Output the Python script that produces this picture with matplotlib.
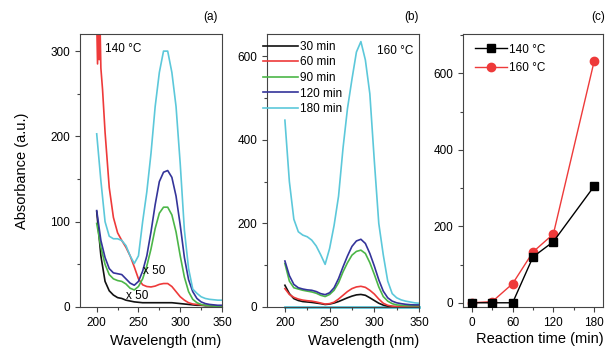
import numpy as np
import matplotlib
matplotlib.use('Agg')
import matplotlib.pyplot as plt
from matplotlib.ticker import MultipleLocator

plt.rcParams['font.family'] = ['Liberation Sans', 'DejaVu Sans']

# colours of the series
c_black, c_red, c_green, c_blue, c_cyan = '#111111', '#ee3a3a', '#4cb648', '#34349a', '#5cc8da'

# wavelength grid (nm) for the spectra
wl = np.arange(200, 351, 5)

# (a) 140 C spectra (30 and 60 min are x50)
a_30 = [112, 60, 30, 19, 14, 11, 10, 8, 7, 6, 5.5, 5, 5, 5, 5, 5, 5, 5, 5, 4.5, 4, 3.5, 3, 2.5, 2, 2, 1.5, 1.5, 1, 1, 1]
wl_a60 = [200, 201, 202, 203, 204, 205, 207, 210, 215, 220, 225, 230, 235, 240, 245, 250, 255, 260, 265, 270,
          275, 280, 285, 290, 295, 300, 305, 310, 315, 320, 325, 330, 340, 350]
a_60 = [335, 285, 335, 290, 330, 280, 255, 205, 140, 105, 87, 78, 70, 60, 47, 33, 26, 24, 23.5, 24.5,
        26.5, 27.5, 27.5, 24, 18, 12, 8, 5, 3.5, 3, 2.5, 2, 1.5, 1]
a_90 = [98, 70, 50, 38, 33, 31, 30, 27, 22, 20, 24, 33, 48, 68, 92, 110, 117, 117, 108, 88, 60, 35, 18, 9, 5, 3, 2, 1.5, 1, 1, 1]
a_120 = [113, 78, 58, 45, 40, 39, 38, 33, 28, 25.5, 30, 42, 60, 88, 120, 147, 158, 160, 152, 130, 96, 58, 32, 18, 10, 6, 4, 3, 2.5, 2, 2]
a_180 = [203, 148, 100, 83, 80, 80, 78, 72, 60, 51, 60, 100, 135, 180, 235, 275, 300, 300, 275, 235, 168, 90, 45, 21, 16, 12, 10, 9, 8.5, 8, 8]

# (b) 160 C spectra
b_30 = [52, 32, 20, 15.5, 13, 12, 11, 9.5, 8, 6, 7, 9.5, 13, 17.5, 22, 26, 29, 30, 28, 22, 15.5, 9, 4.5, 2, 1, 0.5, 0.5, 0.5, 0.5, 0.5, 0.5]
b_60 = [44, 30, 23, 19, 16.5, 15, 14, 12, 9.5, 7, 8, 11.5, 19, 28, 37, 44, 48, 49.5, 47, 40, 31, 19, 9, 4, 2, 1, 0.5, 0.5, 0.5, 0.5, 0.5]
b_90 = [104, 62, 46, 43, 40, 38, 36, 33, 28, 25, 30, 40, 58, 84, 106, 124, 133, 136, 128, 106, 78, 48, 25, 14, 8, 5, 4, 3.5, 3, 3, 3]
b_120 = [110, 75, 54, 46, 43, 41, 40, 37, 32, 29.5, 34, 46, 68, 96, 122, 145, 158, 162, 152, 128, 98, 65, 38, 22, 14, 10, 8, 6.5, 5.5, 5, 5]
b_180 = [447, 300, 210, 180, 172, 168, 160, 146, 125, 102, 140, 195, 265, 380, 475, 545, 610, 635, 591, 510, 350, 200, 125, 62, 32, 22, 17, 14, 12, 10, 9]
b_base = [0] * len(wl)

# (c) peak absorbance vs reaction time
t = [0, 30, 60, 90, 120, 180]
c_140 = [0, 0, 0, 120, 160, 305]
c_160 = [0, 3, 50, 133, 180, 632]

fig = plt.figure(figsize=(6.07, 3.54), dpi=100)
ax1 = fig.add_axes([0.1318, 0.1328, 0.2339, 0.771])
ax2 = fig.add_axes([0.4399, 0.1328, 0.2504, 0.771])
ax3 = fig.add_axes([0.7628, 0.1328, 0.2306, 0.771])

lw = 1.2
ax1.plot(wl, a_30, color=c_black, lw=lw)
ax1.plot(wl_a60, a_60, color=c_red, lw=lw)
ax1.plot(wl, a_90, color=c_green, lw=lw)
ax1.plot(wl, a_120, color=c_blue, lw=lw)
ax1.plot(wl, a_180, color=c_cyan, lw=lw)
ax1.set_xlim(180, 350)
ax1.set_ylim(0, 320)
ax1.xaxis.set_major_locator(MultipleLocator(50))
ax1.xaxis.set_minor_locator(MultipleLocator(25))
ax1.yaxis.set_major_locator(MultipleLocator(100))
ax1.yaxis.set_minor_locator(MultipleLocator(50))
ax1.text(210, 302, '140 °C', fontsize=8.5, va='center')
ax1.text(256, 42, 'x 50', fontsize=8.5, va='center')
ax1.text(235, 13, 'x 50', fontsize=8.5, va='center')
ax1.set_ylabel('Absorbance (a.u.)', fontsize=10.5)
ax1.yaxis.set_label_coords(-0.36, 0.5)
ax1.set_xlabel('Wavelength (nm)', fontsize=10.5)
ax1.xaxis.set_label_coords(0.6, -0.1)

ax2.plot(wl, b_base, color=c_cyan, lw=2, clip_on=False, zorder=1)
ax2.plot(wl, b_30, color=c_black, lw=lw, label='30 min')
ax2.plot(wl, b_60, color=c_red, lw=lw, label='60 min')
ax2.plot(wl, b_90, color=c_green, lw=lw, label='90 min')
ax2.plot(wl, b_120, color=c_blue, lw=lw, label='120 min')
ax2.plot(wl, b_180, color=c_cyan, lw=lw, label='180 min')
ax2.set_xlim(180, 350)
ax2.set_ylim(0, 653)
ax2.xaxis.set_major_locator(MultipleLocator(50))
ax2.xaxis.set_minor_locator(MultipleLocator(25))
ax2.yaxis.set_major_locator(MultipleLocator(200))
ax2.yaxis.set_minor_locator(MultipleLocator(100))
ax2.text(302.5, 612, '160 °C', fontsize=8.5, va='center')
ax2.legend(loc='upper left', bbox_to_anchor=(-0.026, 0.975), frameon=False, fontsize=8.5,
           handlelength=3.0, handletextpad=0.15, labelspacing=0.3, borderpad=0, borderaxespad=0)
ax2.set_xlabel('Wavelength (nm)', fontsize=10.5)
ax2.xaxis.set_label_coords(0.635, -0.1)

ax3.plot(t, c_140, color='black', lw=1, marker='s', ms=5.5, label='140 °C', zorder=3)
ax3.plot(t, c_160, color=c_red, lw=1, marker='o', ms=6, label='160 °C', zorder=2)
ax3.set_xlim(-13, 193)
ax3.set_ylim(-11, 703)
ax3.set_xticks([0, 60, 120, 180])
ax3.xaxis.set_minor_locator(MultipleLocator(30))
ax3.yaxis.set_major_locator(MultipleLocator(200))
ax3.yaxis.set_minor_locator(MultipleLocator(100))
ax3.legend(loc='upper left', bbox_to_anchor=(0.086, 0.965), frameon=False, fontsize=8.5,
           handlelength=2.7, handletextpad=0.15, labelspacing=0.55, borderpad=0, borderaxespad=0)
ax3.set_xlabel('Reaction time (min)', fontsize=10.5)
ax3.xaxis.set_label_coords(0.548, -0.092)

for ax in (ax1, ax2, ax3):
    for s in ax.spines.values():
        s.set_color('#444444')
        s.set_linewidth(0.8)
    ax.tick_params(which='both', direction='out', top=False, right=False, labelsize=8.5, color='#444444')
    ax.tick_params(which='major', length=3.5, width=0.8)
    ax.tick_params(which='minor', length=2, width=0.8)

fig.text(210.7 / 607, 1 - 16.7 / 354, '(a)', fontsize=8.5, ha='center', va='center')
fig.text(411.7 / 607, 1 - 16.7 / 354, '(b)', fontsize=8.5, ha='center', va='center')
fig.text(598 / 607, 1 - 16.7 / 354, '(c)', fontsize=8.5, ha='center', va='center')

fig.savefig('out.png', dpi=100)
